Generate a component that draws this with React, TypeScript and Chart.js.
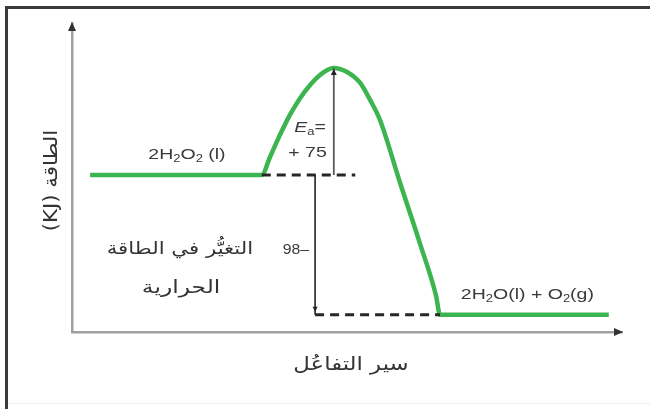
import React, { useEffect, useRef } from 'react';
import { Chart, registerables } from 'chart.js';

Chart.register(...registerables);

// ---- data ----
const reactionProgress = [3.3, 34.5, 36.0, 37.8, 39.6, 41.5, 43.3, 45.1, 47.5, 50.0, 52.4, 54.2, 56.0, 59.6, 63.3, 66.2, 66.9, 97.6];
const energyKJ = [0, 0, 12.6, 28.0, 42.0, 54.0, 63.1, 70.1, 75, 72.2, 64.5, 52.6, 38.5, -4.9, -48.4, -84.8, -98, -98];

const reactantEnergy = 0;
const activationEnergy = 75;
const enthalpyChange = -98;
const productEnergy = reactantEnergy + enthalpyChange;

const upperDashX = [34.5, 51.5];
const lowerDashX = [44.2, 66.9];
const eaArrowX = 47.6;
const dhArrowX = 44.2;

const xRange = [0, 100];
const yRange = [-110, 106.5];

const reactantLabel = '2H₂O₂ (l)';
const productLabel = '2H₂O(l) + O₂(g)';
const eaLabel = ['Eₐ=', '+ 75'];
const dhValueLabel = '–98';
const dhTextLabel = ['التغيُّر في الطاقة', 'الحرارية'];
const xTitle = 'سير التفاعُل';
const yTitle = 'الطاقة (KJ)';

// ---- helpers ----
const SUBS: Record<string, string> = {
  '₀': '0', '₁': '1', '₂': '2', '₃': '3', '₄': '4', '₅': '5', '₆': '6', '₇': '7', '₈': '8', '₉': '9', 'ₐ': 'a',
};

function parseRich(text: string) {
  const segs: { t: string; sub: boolean }[] = [];
  for (const ch of text) {
    const sub = ch in SUBS;
    const t = sub ? SUBS[ch] : ch;
    const last = segs[segs.length - 1];
    if (last && last.sub === sub) last.t += t;
    else segs.push({ t, sub });
  }
  return segs;
}

function drawRich(
  ctx: CanvasRenderingContext2D,
  text: string,
  x: number,
  y: number,
  align: 'left' | 'center' | 'right',
  size: number,
  family: string,
  sx: number,
  italicFirst = false
) {
  const segs = parseRich(text);
  const fontFor = (i: number, s: { sub: boolean }) =>
    `${italicFirst && i === 0 ? 'italic ' : ''}${s.sub ? Math.round(size * 0.68) : size}px ${family}`;
  let total = 0;
  const widths = segs.map((s, i) => {
    ctx.font = fontFor(i, s);
    const w = ctx.measureText(s.t).width;
    total += w;
    return w;
  });
  ctx.save();
  ctx.translate(x, y);
  ctx.scale(sx, 1);
  let cx = align === 'center' ? -total / 2 : align === 'right' ? -total : 0;
  ctx.textAlign = 'left';
  ctx.textBaseline = 'middle';
  ctx.direction = 'ltr';
  segs.forEach((s, i) => {
    ctx.font = fontFor(i, s);
    ctx.fillText(s.t, cx, s.sub ? size * 0.3 : 0);
    cx += widths[i];
  });
  ctx.restore();
}

function drawRtl(
  ctx: CanvasRenderingContext2D,
  text: string,
  x: number,
  y: number,
  align: CanvasTextAlign,
  font: string,
  sx: number,
  rotate = 0
) {
  ctx.save();
  ctx.translate(x, y);
  if (rotate) ctx.rotate(rotate);
  ctx.scale(sx, 1);
  ctx.direction = 'rtl';
  ctx.textAlign = align;
  ctx.textBaseline = 'middle';
  ctx.font = font;
  ctx.fillText(text, 0, 0);
  ctx.restore();
}

function drawHead(
  ctx: CanvasRenderingContext2D,
  tx: number,
  ty: number,
  dir: 'up' | 'down' | 'right',
  len: number,
  half: number,
  color: string
) {
  ctx.save();
  ctx.fillStyle = color;
  ctx.beginPath();
  if (dir === 'up') {
    ctx.moveTo(tx, ty);
    ctx.lineTo(tx - half, ty + len);
    ctx.lineTo(tx + half, ty + len);
  } else if (dir === 'down') {
    ctx.moveTo(tx, ty);
    ctx.lineTo(tx - half, ty - len);
    ctx.lineTo(tx + half, ty - len);
  } else {
    ctx.moveTo(tx, ty);
    ctx.lineTo(tx - len, ty - half);
    ctx.lineTo(tx - len, ty + half);
  }
  ctx.closePath();
  ctx.fill();
  ctx.restore();
}

const LATIN = '"Liberation Sans", Arial, sans-serif';
const ARABIC = '"DejaVu Sans", sans-serif';
const STRETCH = 1.3;

const annotationPlugin = {
  id: 'energyAnnotations',
  afterDatasetsDraw(chart: any) {
    const ctx: CanvasRenderingContext2D = chart.ctx;
    const xs = chart.scales.x;
    const ys = chart.scales.y;
    const area = chart.chartArea;
    const px = (v: number) => xs.getPixelForValue(v);
    const py = (v: number) => ys.getPixelForValue(v);

    ctx.save();
    // axis arrowheads
    drawHead(ctx, area.left, area.top - 1, 'up', 9, 4, '#333');
    drawHead(ctx, area.right + 1, area.bottom, 'right', 9, 4, '#333');

    // energy arrow heads
    drawHead(ctx, px(eaArrowX), py(activationEnergy) + 1, 'up', 6, 3, '#222');
    drawHead(ctx, px(dhArrowX), py(productEnergy) - 3, 'down', 5, 2.5, '#222');

    // chemical labels
    ctx.fillStyle = '#3a3a3a';
    drawRich(ctx, reactantLabel, px(20.9), py(reactantEnergy) - 20, 'center', 15, LATIN, STRETCH);
    drawRich(ctx, productLabel, px(70.7), py(productEnergy) - 20, 'left', 15, LATIN, STRETCH);
    drawRich(ctx, eaLabel[0], px(eaArrowX) - 8, py(reactantEnergy) - 47, 'right', 15, LATIN, STRETCH, true);
    drawRich(ctx, eaLabel[1], px(eaArrowX) - 7, py(reactantEnergy) - 22, 'right', 15, LATIN, STRETCH);

    // ΔH value and Arabic text (right-to-left)
    drawRtl(ctx, dhValueLabel, px(dhArrowX) - 6, py(reactantEnergy) + 75, 'right', `15px ${LATIN}`, 1.05);
    ctx.fillStyle = '#333';
    drawRtl(ctx, dhTextLabel[0], px(dhArrowX) - 62, py(reactantEnergy) + 75, 'right', `17px ${ARABIC}`, 1.25);
    drawRtl(ctx, dhTextLabel[1], px(dhArrowX) - 134, py(reactantEnergy) + 113, 'center', `18px ${ARABIC}`, 1.3);

    // axis titles
    drawRtl(ctx, xTitle, (area.left + area.right) / 2 + 4, area.bottom + 33, 'center', `19px ${ARABIC}`, 1.2);
    drawRtl(ctx, yTitle, area.left - 20, (area.top + area.bottom) / 2 + 3, 'center', `19px ${ARABIC}`, 1.12, -Math.PI / 2);
    ctx.restore();
  },
};

export default function App() {
  const canvasRef = useRef<HTMLCanvasElement | null>(null);

  useEffect(() => {
    const canvas = canvasRef.current;
    if (!canvas) return;
    const curve = reactionProgress.map((x, i) => ({ x, y: energyKJ[i] }));
    const chart = new Chart(canvas, {
      type: 'line',
      data: {
        datasets: [
          {
            data: [
              { x: upperDashX[0], y: reactantEnergy },
              { x: upperDashX[1], y: reactantEnergy },
            ],
            borderColor: '#262626',
            borderWidth: 3,
            borderDash: [9, 6],
            pointRadius: 0,
          },
          {
            data: [
              { x: lowerDashX[0], y: productEnergy },
              { x: lowerDashX[1], y: productEnergy },
            ],
            borderColor: '#262626',
            borderWidth: 3,
            borderDash: [9, 6],
            pointRadius: 0,
          },
          {
            data: [
              { x: eaArrowX, y: reactantEnergy },
              { x: eaArrowX, y: activationEnergy },
            ],
            borderColor: '#5a5a5a',
            borderWidth: 1.8,
            pointRadius: 0,
          },
          {
            data: [
              { x: dhArrowX, y: reactantEnergy },
              { x: dhArrowX, y: productEnergy },
            ],
            borderColor: '#222',
            borderWidth: 1.6,
            pointRadius: 0,
          },
          {
            data: curve,
            borderColor: '#3cb44f',
            borderWidth: 4.5,
            pointRadius: 0,
            cubicInterpolationMode: 'monotone',
            borderJoinStyle: 'round',
          },
        ],
      } as any,
      options: {
        animation: false,
        responsive: false,
        devicePixelRatio: 1,
        layout: { padding: { left: 72, top: 23, right: 28, bottom: 77 } },
        plugins: { legend: { display: false }, tooltip: { enabled: false }, title: { display: false } },
        scales: {
          x: {
            type: 'linear',
            min: xRange[0],
            max: xRange[1],
            grid: { display: false, drawTicks: false },
            ticks: { display: false },
            border: { display: true, color: '#a0a0a0', width: 2.5 },
          },
          y: {
            type: 'linear',
            min: yRange[0],
            max: yRange[1],
            grid: { display: false, drawTicks: false },
            ticks: { display: false },
            border: { display: true, color: '#a0a0a0', width: 2.5 },
          },
        },
      } as any,
      plugins: [annotationPlugin],
    });
    return () => chart.destroy();
  }, []);

  return (
    <div
      style={{
        position: 'fixed',
        left: 0,
        top: 0,
        width: 650,
        height: 409,
        background: '#fff',
        overflow: 'hidden',
      }}
    >
      <canvas ref={canvasRef} width={650} height={409} style={{ display: 'block', position: 'absolute', left: 0, top: 0 }} />
      <div
        style={{
          position: 'absolute',
          left: 5,
          top: 6,
          width: 700,
          height: 500,
          borderLeft: '3px solid #3b3b3b',
          borderTop: '3px solid #3b3b3b',
          pointerEvents: 'none',
        }}
      />
      <div
        style={{
          position: 'absolute',
          left: 8,
          top: 403,
          width: 650,
          height: 1,
          background: '#ececec',
        }}
      />
    </div>
  );
}
